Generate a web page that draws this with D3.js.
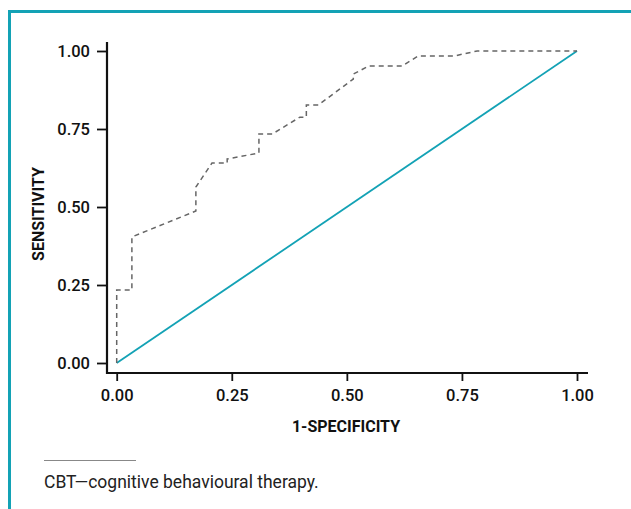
<!DOCTYPE html>
<html>
<head>
<meta charset="utf-8">
<script src="https://cdn.jsdelivr.net/npm/d3@7/dist/d3.min.js"></script>
<style>
  html, body { margin: 0; padding: 0; background: #fff; }
  svg { display: block; }
  text { font-family: "Roboto", "Open Sans", sans-serif; }
</style>
</head>
<body>
<svg id="chart" width="631" height="509"></svg>
<script>
// ROC curve points (1-specificity, sensitivity)
const rocFpr  = [0, 0, 0.033, 0.033, 0.172, 0.172, 0.207, 0.240, 0.240, 0.309, 0.309, 0.338, 0.398, 0.412, 0.412, 0.438, 0.514, 0.514, 0.548, 0.620, 0.655, 0.733, 0.783, 1.0];
const rocTpr  = [0, 0.234, 0.234, 0.404, 0.487, 0.564, 0.641, 0.641, 0.654, 0.673, 0.734, 0.734, 0.788, 0.788, 0.827, 0.827, 0.910, 0.926, 0.952, 0.952, 0.984, 0.984, 1.0, 1.0];
// Reference (chance) line
const refX = [0, 1];
const refY = [0, 1];
const xTicks = [0, 0.25, 0.5, 0.75, 1];
const yTicks = [0, 0.25, 0.5, 0.75, 1];
const xTitle = "1-SPECIFICITY";
const yTitle = "SENSITIVITY";
const footnote = "CBT\u2014cognitive behavioural therapy.";

const svg = d3.select("#chart");
const teal = "#13a2b5";

// frame
svg.append("path")
  .attr("d", "M9.5,509 L9.5,11.5 L631,11.5")
  .attr("fill", "none").attr("stroke", teal).attr("stroke-width", 3);

const x = d3.scaleLinear().domain([0, 1]).range([116.7, 577]);
const y = d3.scaleLinear().domain([0, 1]).range([363, 51]);

const axisColor = "#111";

// x-axis
const gx = svg.append("g").attr("transform", "translate(0,373)")
  .call(d3.axisBottom(x).tickValues(xTicks).tickFormat(d3.format(".2f")).tickSize(8).tickPadding(8));
gx.select(".domain").attr("d", "M107,0H588").attr("stroke", axisColor).attr("stroke-width", 2.2);
gx.selectAll(".tick line").attr("stroke", axisColor).attr("stroke-width", 1.8);
gx.selectAll(".tick text").attr("fill", "#111").style("font-size", "16.5px").style("font-weight", 500)
  .style("font-family", "Roboto, sans-serif");

// y-axis
const gy = svg.append("g").attr("transform", "translate(107,0)")
  .call(d3.axisLeft(y).tickValues(yTicks).tickFormat(d3.format(".2f")).tickSize(10).tickPadding(7));
gy.select(".domain").attr("d", "M0,42V374").attr("stroke", axisColor).attr("stroke-width", 2.2);
gy.selectAll(".tick line").attr("stroke", axisColor).attr("stroke-width", 1.8);
gy.selectAll(".tick text").attr("fill", "#111").style("font-size", "16.5px").style("font-weight", 500)
  .style("font-family", "Roboto, sans-serif");

// reference line
const refData = refX.map((v, i) => [v, refY[i]]);
svg.append("path").datum(refData)
  .attr("d", d3.line().x(d => x(d[0])).y(d => y(d[1])))
  .attr("fill", "none").attr("stroke", teal).attr("stroke-width", 1.8);

// ROC curve
const rocData = rocFpr.map((v, i) => [v, rocTpr[i]]);
svg.append("path").datum(rocData)
  .attr("d", d3.line().x(d => x(d[0])).y(d => y(d[1])))
  .attr("fill", "none").attr("stroke", "#666").attr("stroke-width", 1.5)
  .attr("stroke-dasharray", "5,4");

// axis titles
svg.append("text").attr("x", 346).attr("y", 432).attr("text-anchor", "middle")
  .style("font-size", "16px").style("font-weight", 700).attr("fill", "#111").text(xTitle);
svg.append("text").attr("transform", "translate(44,214) rotate(-90)").attr("text-anchor", "middle")
  .style("font-size", "16px").style("font-weight", 700).attr("fill", "#111").text(yTitle);

// footnote rule + text
svg.append("line").attr("x1", 44).attr("x2", 136).attr("y1", 460.5).attr("y2", 460.5)
  .attr("stroke", "#888").attr("stroke-width", 1);
svg.append("text").attr("x", 44).attr("y", 488)
  .style("font-size", "17.5px").attr("fill", "#222").text(footnote);
</script>
</body>
</html>
